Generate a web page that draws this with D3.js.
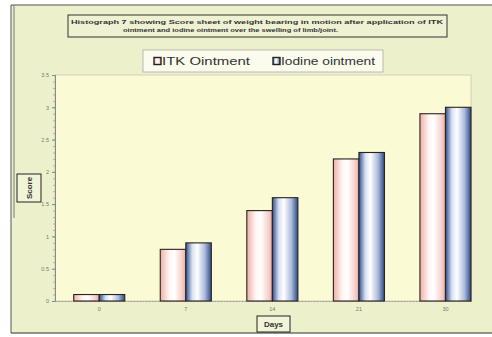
<!DOCTYPE html>
<html>
<head>
<meta charset="utf-8">
<script src="https://cdn.jsdelivr.net/npm/d3@7"></script>
<style>
  html, body { margin: 0; padding: 0; background: #ffffff; }
  svg { display: block; font-family: "Liberation Sans", Arial, sans-serif; }
</style>
</head>
<body>
<svg id="chart" width="492" height="337"></svg>
<script>
// Score of weight bearing in motion, by day
const days = ["0", "7", "14", "21", "30"];
const itkScores = [0.1, 0.8, 1.4, 2.2, 2.9];
const iodineScores = [0.1, 0.9, 1.6, 2.3, 3.0];
const seriesNames = ["ITK Ointment", "Iodine ointment"];
const yTicks = [0, 0.5, 1, 1.5, 2, 2.5, 3, 3.5];
const titleLines = [
  "Histograph 7 showing Score sheet of weight bearing in motion after application of ITK",
  "ointment and iodine ointment over the swelling of limb/joint."
];

const svg = d3.select("#chart");
const defs = svg.append("defs");

// Cylinder-like shading for the two series
const gradITK = defs.append("linearGradient").attr("id", "gITK").attr("x1", 0).attr("x2", 1).attr("y1", 0).attr("y2", 0);
[["0%", "#eeb0a6"], ["35%", "#fff6f4"], ["55%", "#ffffff"], ["85%", "#f6d0c9"], ["100%", "#e9aca2"]]
  .forEach(([o, c]) => gradITK.append("stop").attr("offset", o).attr("stop-color", c));
const gradIod = defs.append("linearGradient").attr("id", "gIod").attr("x1", 0).attr("x2", 1).attr("y1", 0).attr("y2", 0);
[["0%", "#2f4f8f"], ["25%", "#d8e0f0"], ["45%", "#ffffff"], ["75%", "#a9bada"], ["100%", "#2c4a86"]]
  .forEach(([o, c]) => gradIod.append("stop").attr("offset", o).attr("stop-color", c));

// Outer panel
svg.append("rect").attr("x", 11).attr("y", 5).attr("width", 481).attr("height", 328)
  .attr("fill", "#ecf1cb");
svg.append("line").attr("x1", 11).attr("x2", 492).attr("y1", 5).attr("y2", 5)
  .attr("stroke", "#8a8a84").attr("stroke-width", 1.5);
svg.append("line").attr("x1", 11).attr("x2", 492).attr("y1", 333).attr("y2", 333)
  .attr("stroke", "#6f6f6a").attr("stroke-width", 1.5);
svg.append("line").attr("x1", 11).attr("x2", 11).attr("y1", 5).attr("y2", 333)
  .attr("stroke", "#555").attr("stroke-width", 1);
svg.append("line").attr("x1", 14).attr("x2", 14).attr("y1", 5).attr("y2", 218)
  .attr("stroke", "#777").attr("stroke-width", 1);

// Plot area
const plot = { left: 55, right: 471, top: 75, bottom: 301 };
svg.append("rect").attr("x", plot.left).attr("y", plot.top)
  .attr("width", plot.right - plot.left).attr("height", plot.bottom - plot.top)
  .attr("fill", "#fafbd4").attr("stroke", "#c9cbb0").attr("stroke-width", 0.8);

const x = d3.scaleBand().domain(days).range([plot.left, plot.right])
  .paddingInner(0.41).paddingOuter(0.108).align(1);
const xs = d3.scaleBand().domain(seriesNames).range([0, x.bandwidth()]);
const y = d3.scaleLinear().domain([0, 3.5]).range([plot.bottom, plot.top]);

// Y axis with minor ticks
const yMinor = d3.range(0, 3.5001, 0.1);
svg.append("g").attr("transform", `translate(${plot.left},0)`)
  .call(d3.axisLeft(y).tickValues(yMinor).tickSize(2).tickFormat(""))
  .call(g => g.selectAll("path,line").attr("stroke", "#999").attr("stroke-width", 0.7));
svg.append("g").attr("transform", `translate(${plot.left},0)`)
  .call(d3.axisLeft(y).tickValues(yTicks).tickSize(3).tickPadding(3).tickFormat(d3.format("")))
  .call(g => g.select(".domain").attr("stroke", "#888"))
  .call(g => g.selectAll("line").attr("stroke", "#888"))
  .call(g => g.selectAll("text").attr("fill", "#777").attr("font-size", 5.5));

// X axis along zero line
svg.append("g").attr("transform", `translate(0,${plot.bottom})`)
  .call(d3.axisBottom(x).tickSize(0).tickPadding(6))
  .call(g => g.select(".domain").attr("stroke", "#999").attr("stroke-dasharray", "2,1"))
  .call(g => g.selectAll("text").attr("fill", "#777").attr("font-size", 5.5));

// Bars
const rows = days.map((d, i) => ({ day: d, vals: [itkScores[i], iodineScores[i]] }));
const groups = svg.append("g").selectAll("g").data(rows).join("g")
  .attr("transform", d => `translate(${x(d.day)},0)`);
groups.selectAll("rect").data(d => d.vals.map((v, j) => ({ name: seriesNames[j], v })))
  .join("rect")
  .attr("x", d => xs(d.name))
  .attr("width", xs.bandwidth())
  .attr("y", d => y(d.v))
  .attr("height", d => y(0) - y(d.v))
  .attr("fill", (d, j) => j === 0 ? "url(#gITK)" : "url(#gIod)")
  .attr("stroke", "#2a2220").attr("stroke-width", 1.1);

// Title box
svg.append("rect").attr("x", 68).attr("y", 15).attr("width", 379).attr("height", 22)
  .attr("fill", "#eef2d2").attr("stroke", "#333").attr("stroke-width", 1);
const titleLayout = [{ x: 71, w: 372 }, { x: 123, w: 215 }];
svg.append("g").selectAll("text").data(titleLines).join("text")
  .attr("x", (d, i) => titleLayout[i].x).attr("y", (d, i) => 23.5 + i * 8.5)
  .attr("font-size", 6).attr("font-weight", "bold")
  .attr("fill", "#333")
  .attr("textLength", (d, i) => titleLayout[i].w)
  .attr("lengthAdjust", "spacingAndGlyphs")
  .text(d => d);

// Legend
svg.append("rect").attr("x", 143).attr("y", 50).attr("width", 240).attr("height", 22)
  .attr("fill", "#fbfcee").attr("stroke", "#aaa").attr("stroke-width", 0.8);
const legendLayout = [{ x: 154, w: 88 }, { x: 273, w: 94 }];
const lg = svg.append("g").selectAll("g").data(seriesNames).join("g")
  .attr("transform", (d, i) => `translate(${legendLayout[i].x},57)`);
lg.append("rect").attr("width", 7).attr("height", 7).attr("y", 0.5)
  .attr("fill", (d, i) => i === 0 ? "url(#gITK)" : "url(#gIod)")
  .attr("stroke", "#222").attr("stroke-width", 1.4);
lg.append("text").attr("x", 8).attr("y", 8.3).attr("font-size", 11.5).attr("fill", "#333")
  .attr("textLength", (d, i) => legendLayout[i].w)
  .attr("lengthAdjust", "spacingAndGlyphs")
  .text(d => d);

// Axis titles
svg.append("rect").attr("x", 17).attr("y", 174).attr("width", 24).attr("height", 28)
  .attr("fill", "#f1f4d6").attr("stroke", "#222").attr("stroke-width", 1);
svg.append("text").attr("transform", "translate(32,188) rotate(-90)")
  .attr("text-anchor", "middle").attr("font-size", 8).attr("font-weight", "bold")
  .attr("fill", "#333").text("Score");
svg.append("rect").attr("x", 257).attr("y", 316).attr("width", 33).attr("height", 16)
  .attr("fill", "#f1f4d6").attr("stroke", "#222").attr("stroke-width", 1);
svg.append("text").attr("x", 273.5).attr("y", 327).attr("text-anchor", "middle")
  .attr("font-size", 8).attr("font-weight", "bold").attr("fill", "#333").text("Days");
</script>
</body>
</html>
